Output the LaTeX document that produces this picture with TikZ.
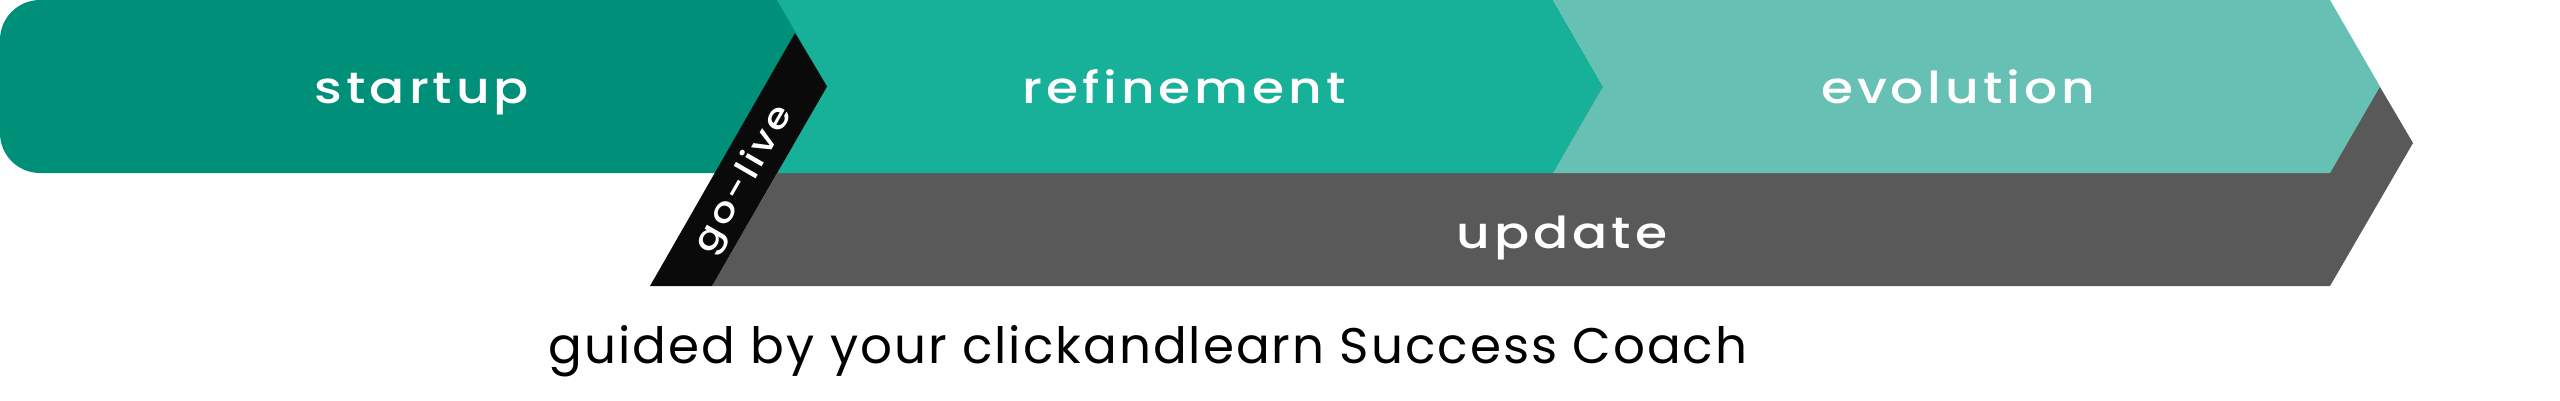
\documentclass[tikz,border=0pt]{standalone}
\usepackage{fontspec}
\setmainfont{Poppins}
\newfontfamily\labelfont[LetterSpace=9,FakeStretch=1.18]{Poppins Medium}
\newfontfamily\captfont[LetterSpace=4]{Poppins}
\definecolor{startupc}{HTML}{008F79}
\definecolor{refinec}{HTML}{17B098}
\definecolor{evolc}{HTML}{66C1B4}
\definecolor{updc}{HTML}{595959}
\definecolor{golivec}{HTML}{0A0A0A}
\begin{document}
\begin{tikzpicture}[x=1pt,y=-1pt,
  lbl/.style={text=white,font=\labelfont\fontsize{44}{48}\selectfont,anchor=base,inner sep=0pt},
  golbl/.style={text=white,font=\labelfont\fontsize{34}{38}\selectfont,anchor=center,inner sep=0pt,rotate=60},
  capt/.style={text=black,font=\captfont\fontsize{50}{54}\selectfont,anchor=base,inner sep=0pt}]
\useasboundingbox (0,0) rectangle (2560,400);
% update band (behind)
\fill[updc] (712,286) -- (827,87) -- (2380,87) -- (2413,143) -- (2330,286) -- cycle;
% startup
\fill[startupc, rounded corners=40pt] (0,0) rectangle (900,173);
% refinement
\fill[refinec] (777,0) -- (1553,0) -- (1603,86.5) -- (1553,173) -- (777,173) -- (827,86.5) -- cycle;
% evolution
\fill[evolc] (1553,0) -- (2330,0) -- (2380,86.5) -- (2330,173) -- (1553,173) -- (1603,86.5) -- cycle;
% go-live band
\fill[golivec] (795,33) -- (827,86.5) -- (712,286) -- (650,286) -- cycle;
% labels
\node[lbl] (startup) at (422,103) {startup};
\node[lbl] (refinement) at (1184,103) {refinement};
\node[lbl] (evolution) at (1958,103) {evolution};
\node[lbl] (update) at (1562,248) {update};
\node[golbl] (golive) at (745,180) {go-live};
\node[capt] (caption) at (1148,363) {guided by your clickandlearn Success Coach};
\end{tikzpicture}
\end{document}
